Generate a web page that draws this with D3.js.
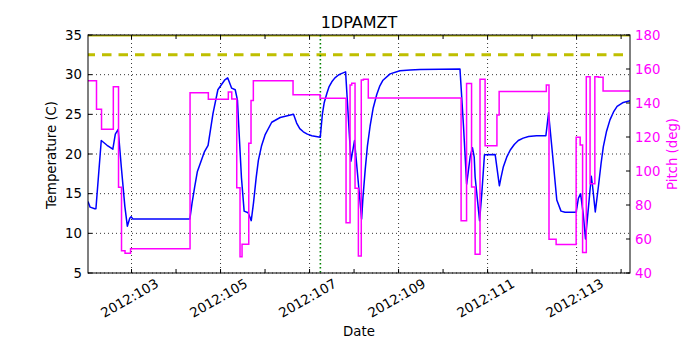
<!DOCTYPE html>
<html><head><meta charset="utf-8">
<script src="https://cdn.jsdelivr.net/npm/d3@7"></script>
<style>body{margin:0;background:#fff}svg{display:block;font-family:"DejaVu Sans",sans-serif}</style>
</head><body><svg id="c" width="700" height="350"></svg>
<script>
// Temperature series (day of year 2012, deg C)
const tempDays = [102.022,102.07,102.173,102.2,102.32,102.45,102.58,102.636,102.70,102.77,102.85,102.906,102.96,102.99,103.03,104.31,104.36,104.42,104.48,104.57,104.64,104.72,104.83,104.94,105.09,105.16,105.25,105.33,105.38,105.40,105.47,105.53,105.62,105.69,105.74,105.80,105.85,105.92,106.0,106.15,106.34,106.64,106.71,106.78,106.86,106.95,107.05,107.24,107.29,107.33,107.39,107.44,107.50,107.57,107.65,107.70,107.81,107.93,108.01,108.17,108.20,108.25,108.30,108.36,108.43,108.51,108.58,108.65,108.81,109.03,109.26,109.48,110.38,110.46,110.53,110.61,110.66,110.70,110.72,110.82,110.87,110.93,111.17,111.265,111.30,111.355,111.43,111.51,111.60,111.69,111.80,111.92,112.10,112.31,112.37,112.45,112.555,112.65,112.74,112.99,113.04,113.09,113.15,113.20,113.27,113.33,113.36,113.42,113.49,113.55,113.60,113.67,113.75,113.83,113.91,114.05,114.20];
const tempValues = [14.0,13.3,13.1,13.1,21.7,21.1,20.6,22.5,23.1,18.4,13.4,10.9,11.9,12.1,11.8,11.8,13.8,15.9,17.8,19.2,20.3,21.1,25.1,28.1,29.3,29.6,28.3,28.1,26.8,24.5,17.0,12.8,12.6,11.6,13.8,17.0,19.2,21.0,22.4,24.0,24.6,25.0,23.9,23.2,22.8,22.5,22.3,22.1,25.1,26.5,27.65,28.5,29.1,29.6,29.96,30.1,30.35,19.1,21.7,11.8,14.5,18.0,21.0,23.5,25.8,27.5,28.6,29.3,30.1,30.5,30.6,30.65,30.7,23.4,16.2,19.7,20.8,19.6,17.1,11.6,15.0,19.9,19.95,16.0,17.0,18.4,19.6,20.5,21.2,21.7,22.0,22.2,22.3,22.3,25.2,20.5,14.2,12.8,12.65,12.65,14.4,15.0,12.4,9.3,13.5,17.2,15.9,12.7,15.9,18.8,20.9,22.8,24.3,25.3,26.0,26.5,26.7];
// Pitch series (step changes: day of year, deg)
const pitchDays = [102.022,102.213,102.326,102.591,102.708,102.775,102.854,102.978,104.315,104.726,105.175,105.252,105.364,105.438,105.483,105.634,105.685,105.737,106.629,107.236,107.82,107.91,107.948,108.022,108.097,108.162,108.21,108.32,110.405,110.528,110.64,110.72,110.83,110.944,111.21,111.26,112.32,112.38,112.54,112.99,113.08,113.135,113.218,113.303,113.41,113.49,113.595,114.2];
const pitchValues = [153.1,136.3,124.5,149.6,90.4,53.1,51.6,54.3,146.1,142.2,146.5,142.4,90.2,49.6,56.9,116.3,141.5,153.1,144.9,142.8,69.6,150.6,151.6,89.8,50.0,153.5,153.9,142.9,70.7,151.4,90.6,51.0,154.0,114.8,133.0,146.7,150.6,59.8,56.7,119.8,115.3,52.0,155.5,92.5,155.5,155.1,147.1,147.1];
// Limits and marker
const tempLimitSolid = 35;
const tempLimitDashed = 32.5;
const markerDay = 107.243;
// Axes
const xDomain = [102.022, 114.2];
const tempDomain = [5, 35];
const pitchDomain = [40, 180];
const tempTicks = [5,10,15,20,25,30,35];
const pitchTicks = [40,60,80,100,120,140,160,180];
const xMajorTicks = [103,105,107,109,111,113];
const xMinorTicks = [104,106,108,110,112,114];
const titleText = "1DPAMZT";

const L=88,R=630,T=35,B=273;
const svg=d3.select("#c");
const x=d3.scaleLinear().domain(xDomain).range([L,R]);
const yT=d3.scaleLinear().domain(tempDomain).range([B,T]);
const yP=d3.scaleLinear().domain(pitchDomain).range([B,T]);

svg.append("defs").append("clipPath").attr("id","clip").append("rect")
  .attr("x",L).attr("y",T).attr("width",R-L).attr("height",B-T);

// grid
const g=svg.append("g");
tempTicks.forEach(t=>g.append("line").attr("x1",L).attr("x2",R).attr("y1",yT(t)).attr("y2",yT(t))
  .attr("stroke","#000").attr("stroke-width",0.8).attr("stroke-dasharray","1,3"));
xMajorTicks.forEach(t=>g.append("line").attr("x1",x(t)).attr("x2",x(t)).attr("y1",T).attr("y2",B)
  .attr("stroke","#000").attr("stroke-width",0.8).attr("stroke-dasharray","1,3"));

const plot=svg.append("g").attr("clip-path","url(#clip)");
plot.append("line").attr("x1",L).attr("x2",R).attr("y1",yT(tempLimitSolid)).attr("y2",yT(tempLimitSolid))
  .attr("stroke","#bfbf00").attr("stroke-width",3);
plot.append("line").attr("x1",L).attr("x2",R).attr("y1",yT(tempLimitDashed)).attr("y2",yT(tempLimitDashed))
  .attr("stroke","#bfbf00").attr("stroke-width",3).attr("stroke-dasharray","9.5,7").attr("stroke-dashoffset",2.5);
plot.append("line").attr("x1",x(markerDay)).attr("x2",x(markerDay)).attr("y1",T).attr("y2",B)
  .attr("stroke","#008000").attr("stroke-width",1.6).attr("stroke-dasharray","1.5,2.5");

const tempData=tempDays.map((d,i)=>[d,tempValues[i]]);
plot.append("path").datum(tempData).attr("fill","none").attr("stroke","#0000ff").attr("stroke-width",1.5)
  .attr("stroke-linejoin","round")
  .attr("d",d3.line().x(d=>x(d[0])).y(d=>yT(d[1])));
const pitchData=pitchDays.map((d,i)=>[d,pitchValues[i]]);
plot.append("path").datum(pitchData).attr("fill","none").attr("stroke","#ff00ff").attr("stroke-width",1.5)
  .attr("d",d3.line().curve(d3.curveStepAfter).x(d=>x(d[0])).y(d=>yP(d[1])));

// frame
svg.append("rect").attr("x",L).attr("y",T).attr("width",R-L).attr("height",B-T)
  .attr("fill","none").attr("stroke","#000").attr("stroke-width",1);

// ticks
const tk=svg.append("g").attr("stroke","#000").attr("stroke-width",1);
tempTicks.forEach(t=>tk.append("line").attr("x1",L).attr("x2",L+4).attr("y1",yT(t)).attr("y2",yT(t)));
pitchTicks.forEach(t=>tk.append("line").attr("x1",R).attr("x2",R-4).attr("y1",yP(t)).attr("y2",yP(t)));
xMajorTicks.concat(xMinorTicks).forEach(t=>{
  tk.append("line").attr("x1",x(t)).attr("x2",x(t)).attr("y1",B).attr("y2",B-4);
  tk.append("line").attr("x1",x(t)).attr("x2",x(t)).attr("y1",T).attr("y2",T+4);
});

const fs=13.3;
tempTicks.forEach(t=>svg.append("text").attr("x",82).attr("y",yT(t)).attr("dy","0.36em")
  .attr("text-anchor","end").attr("font-size",fs).text(t));
pitchTicks.forEach(t=>svg.append("text").attr("x",635).attr("y",yP(t)).attr("dy","0.36em")
  .attr("text-anchor","start").attr("font-size",fs).attr("fill","#ff00ff").text(t));
xMajorTicks.forEach(t=>svg.append("text").attr("transform",`translate(${x(t)-2},298) rotate(-30)`)
  .attr("text-anchor","middle").attr("dy","0.36em").attr("font-size",fs).text("2012:"+d3.format("03d")(t)));

svg.append("text").attr("x",359).attr("y",28).attr("text-anchor","middle").attr("font-size",16).text(titleText);
svg.append("text").attr("x",359).attr("y",336).attr("text-anchor","middle").attr("font-size",fs).text("Date");
svg.append("text").attr("transform","translate(56,155) rotate(-90)").attr("text-anchor","middle").attr("font-size",fs).text("Temperature (C)");
svg.append("text").attr("transform","translate(677,154) rotate(-90)").attr("text-anchor","middle").attr("font-size",fs).attr("fill","#ff00ff").text("Pitch (deg)");
</script></body></html>
